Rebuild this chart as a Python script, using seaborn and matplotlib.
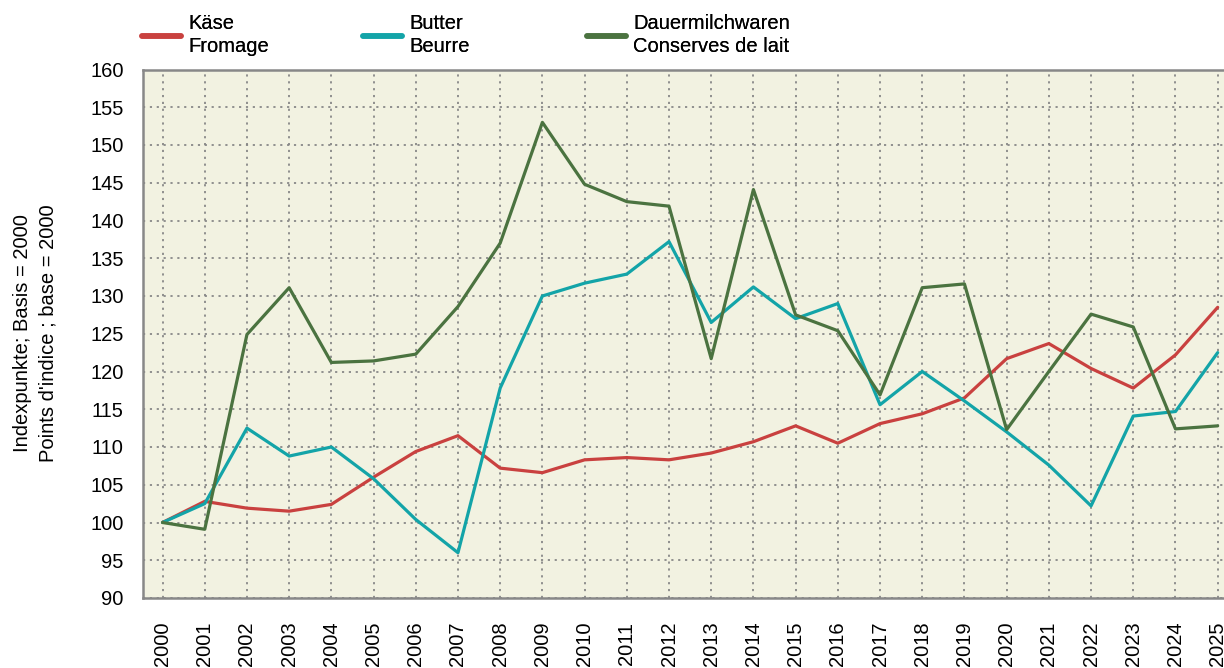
import matplotlib
matplotlib.use("Agg")
import matplotlib.pyplot as plt
import seaborn as sns
import pandas as pd
from matplotlib.lines import Line2D

years = list(range(2000, 2026))
kaese = [100, 102.8, 101.9, 101.5, 102.4, 106.0, 109.4, 111.5, 107.2, 106.6,
         108.3, 108.6, 108.3, 109.2, 110.7, 112.8, 110.5, 113.1, 114.4, 116.5,
         121.7, 123.7, 120.4, 117.8, 122.2, 128.5]
butter = [100, 102.5, 112.5, 108.8, 110.0, 105.8, 100.4, 96.0, 117.8, 130.0,
          131.7, 132.9, 137.2, 126.5, 131.2, 127.0, 129.0, 115.6, 120.0, 116.1,
          112.0, 107.6, 102.2, 114.1, 114.7, 122.5]
dauer = [100, 99.1, 124.9, 131.1, 121.2, 121.4, 122.3, 128.6, 137.0, 153.0,
         144.8, 142.5, 141.9, 121.7, 144.1, 127.5, 125.4, 116.9, 131.1, 131.6,
         112.3, 120.0, 127.6, 125.9, 112.4, 112.8]
series_names = ["Käse\nFromage", "Butter\nBeurre", "Dauermilchwaren\nConserves de lait"]
colors = ["#C9413F", "#13A4A8", "#4B7340"]
y_ticks = list(range(90, 161, 5))
y_label = "Indexpunkte; Basis = 2000\nPoints d'indice ; base = 2000"

sns.set_style("white")
plt.rcParams["font.family"] = ["Liberation Sans", "DejaVu Sans"]
plt.rcParams["text.color"] = "black"
plt.rcParams["xtick.labelcolor"] = "black"
plt.rcParams["ytick.labelcolor"] = "black"

df = pd.DataFrame({
    "year": years * 3,
    "value": kaese + butter + dauer,
    "series": [series_names[0]] * len(years) + [series_names[1]] * len(years) + [series_names[2]] * len(years),
})

FS = 14.5
fig = plt.figure(figsize=(12.24, 6.68), dpi=100)
W, H = 1224, 668
ax = fig.add_axes([142.7 / W, 1 - 598 / H, (W - 142.7) / W, (598 - 69.5) / H])
ax.set_facecolor("#F2F2E1")

sns.lineplot(data=df, x="year", y="value", hue="series", palette=colors,
             hue_order=series_names, linewidth=2.3, ax=ax, legend=False)

ax.set_xlim(1999.53, 2025.15)
ax.set_ylim(90, 160)
ax.set_xticks(years)
ax.set_xticklabels([str(y) for y in years], rotation=90, fontsize=FS, color="black")
ax.set_yticks(y_ticks)
ax.set_yticklabels([str(v) for v in y_ticks], fontsize=FS, color="black")
ax.tick_params(axis="both", length=10, width=1.5, color="#888888")
ax.tick_params(axis="y", pad=3.6)
ax.tick_params(axis="x", pad=7)
ax.set_xlabel("")
ax.set_ylabel("")
fig.text(35 / W, 1 - 333.5 / H, y_label, rotation=90, ha="center", va="center",
         multialignment="center", fontsize=FS, linespacing=1.45, color="black")

ax.grid(True, color="#888888", linestyle=(0, (1.2, 2.6)), linewidth=1.3)
for s in ["left", "bottom", "top"]:
    ax.spines[s].set_color("#888888")
    ax.spines[s].set_linewidth(1.8)
ax.spines["right"].set_visible(False)

legend_x = [142, 363, 587]
for name, col, lx in zip(series_names, colors, legend_x):
    h = Line2D([0], [0], color=col, linewidth=4)
    leg = fig.legend([h], [name], loc="upper left", bbox_to_anchor=(lx / W, 1 - 14 / H),
                     frameon=False, fontsize=FS, handlelength=1.95, handletextpad=0.35,
                     borderaxespad=0, borderpad=0)
    for t in leg.get_texts():
        t.set_linespacing(1.3)
        t.set_color("black")
    fig.add_artist(leg)

fig.savefig("out.png", dpi=100)
